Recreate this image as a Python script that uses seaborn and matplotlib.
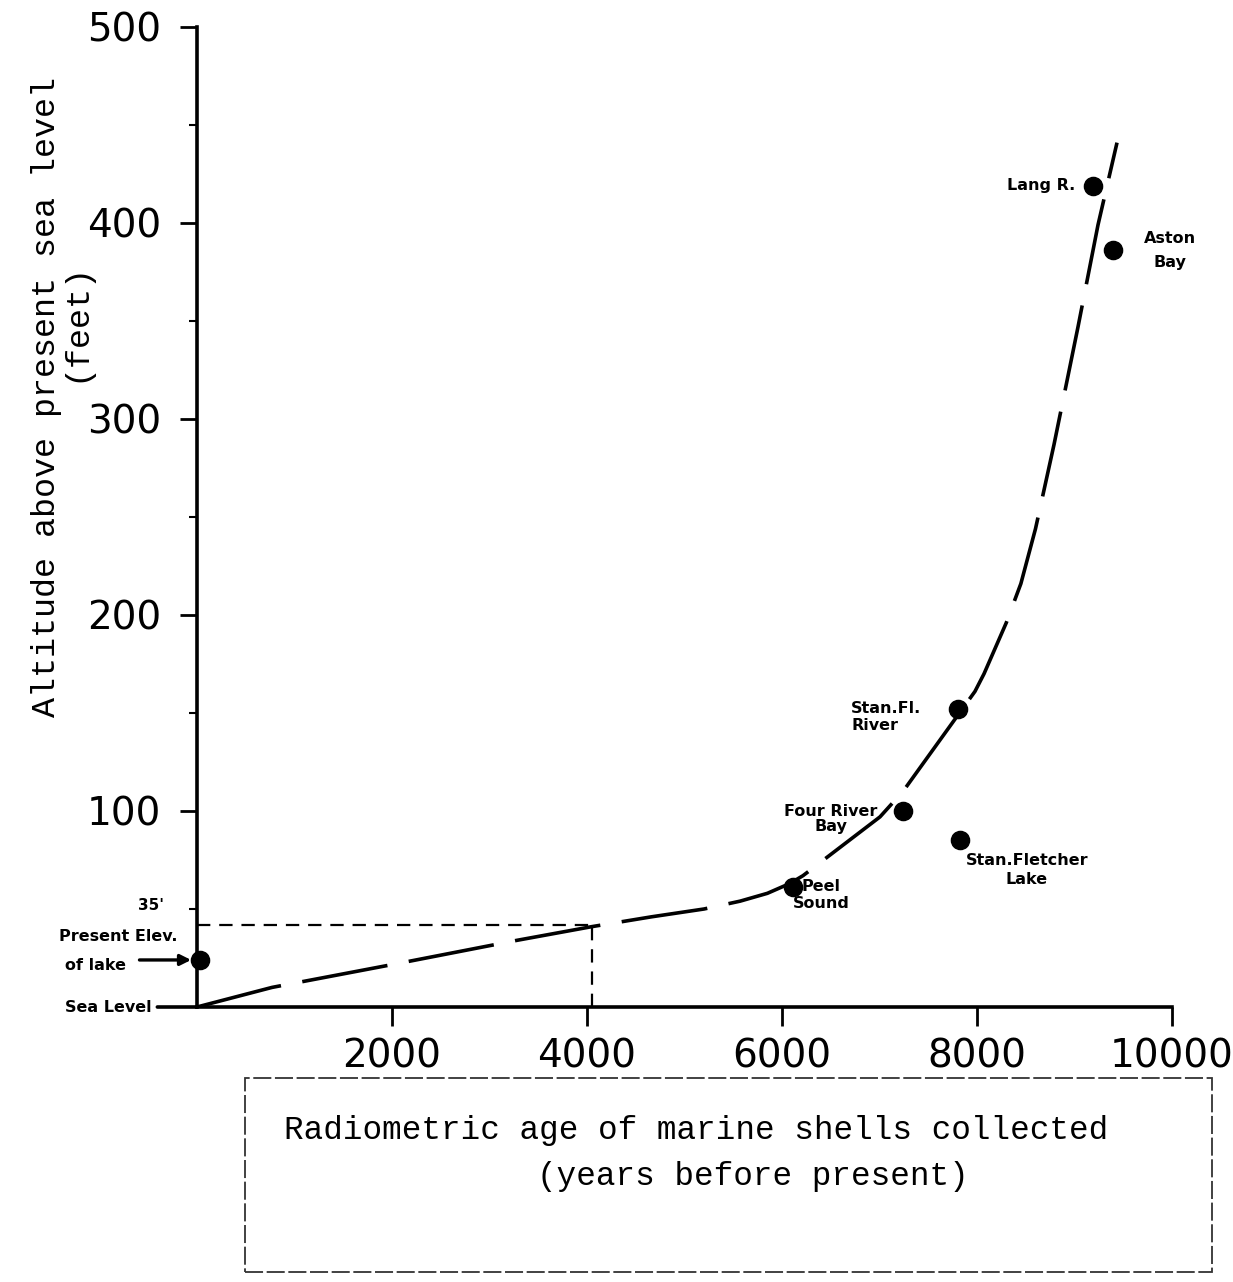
import matplotlib
matplotlib.use("Agg")
import matplotlib.pyplot as plt
import seaborn as sns
import pandas as pd
from matplotlib.patches import Rectangle
from matplotlib.ticker import MultipleLocator

# ---------------- data ----------------
site_names = ["Present Elev. of lake", "Peel Sound", "Four River Bay",
              "Stan.Fl. River", "Stan.Fletcher Lake", "Lang R.", "Aston Bay"]
site_age = [30, 6110, 7240, 7800, 7830, 9190, 9395]
site_alt = [24, 61, 100, 152, 85, 419, 386]

curve_age = [0, 770, 2040, 3280, 4050, 4660, 5200, 5570, 5850, 6080, 6215,
             7005, 7241, 7979, 8072, 8300, 8450, 8600, 8790, 9036, 9241, 9436]
curve_alt = [0, 10, 22, 34, 41, 46, 50, 54, 58, 63, 67,
             97, 110, 161, 170, 196, 216, 244, 287, 347, 399, 441]

ref_age = 4050   # age where the present lake level (35') meets the curve
ref_alt = 42

x_ticks = [2000, 4000, 6000, 8000, 10000]
y_ticks = [100, 200, 300, 400, 500]

sites = pd.DataFrame({"site": site_names, "age": site_age, "alt": site_alt})
curve = pd.DataFrame({"age": curve_age, "alt": curve_alt})

# ---------------- style ----------------
sns.set_style("ticks")
plt.rcParams["font.family"] = ["DejaVu Sans"]
plt.rcParams["text.color"] = "black"

fig = plt.figure(figsize=(12.33, 12.82), dpi=100)
ax = fig.add_axes([197 / 1233, 275 / 1282, 975 / 1233, 980 / 1282])

sns.lineplot(data=curve, x="age", y="alt", sort=False, estimator=None,
             color="black", lw=2.6, ax=ax)
ax.lines[-1].set_linestyle((0, (24, 6)))

sns.scatterplot(data=sites, x="age", y="alt", s=170, color="black",
                edgecolor="black", zorder=5, clip_on=False, ax=ax, legend=False)

ax.hlines(ref_alt, 0, ref_age, colors="black", lw=1.6, linestyles=[(0, (6, 4))])
ax.vlines(ref_age, 0, ref_alt, colors="black", lw=1.6, linestyles=[(0, (6, 4))])

ax.set_xlim(0, 10000)
ax.set_ylim(0, 500)
for s in ["top", "right"]:
    ax.spines[s].set_visible(False)
for s in ["left", "bottom"]:
    ax.spines[s].set_linewidth(2.6)
    ax.spines[s].set_color("black")

ax.set_xticks(x_ticks)
ax.set_xticklabels([str(v) for v in x_ticks], fontsize=28)
ax.set_yticks(y_ticks)
ax.set_yticklabels([str(v) for v in y_ticks], fontsize=28)
ax.yaxis.set_minor_locator(MultipleLocator(50))
ax.tick_params(axis="both", which="both", colors="black", labelcolor="black")
ax.tick_params(axis="y", which="major", length=12, width=2, pad=14, direction="out")
ax.tick_params(axis="y", which="minor", length=6, width=1.5, direction="out")
ax.tick_params(axis="x", which="major", length=14, width=2, pad=8, direction="out")
ax.set_xlabel("")
ax.set_ylabel("")

# ---------------- site labels ----------------
lab = dict(fontsize=11.5, fontweight="bold", color="black")
ax.text(9005, 419, "Lang R.", ha="right", va="center", **lab)
ax.text(9980, 386, "Aston\nBay", ha="center", va="center", linespacing=1.7, **lab)
ax.text(6708, 148, "Stan.Fl.\nRiver", ha="left", va="center", linespacing=1.2, **lab)
ax.text(6500, 96, "Four River\nBay", ha="center", va="center", linespacing=0.95, **lab)
ax.text(6400, 57, "Peel\nSound", ha="center", va="center", linespacing=1.2, **lab)
ax.text(8513, 70, "Stan.Fletcher\nLake", ha="center", va="center", linespacing=1.3, **lab)

ax.text(-810, 36, "Present Elev.", ha="center", va="center", **lab)
ax.text(-1046, 21, "of lake", ha="center", va="center", **lab)
ax.annotate("", xy=(-60, 24), xytext=(-590, 24), annotation_clip=False,
            arrowprops=dict(arrowstyle="-|>", lw=2.4, color="black",
                            mutation_scale=16, shrinkA=0, shrinkB=0))
ax.annotate("Sea Level", xy=(0, 0), xytext=(-913, 0), ha="center", va="center",
            annotation_clip=False,
            arrowprops=dict(arrowstyle="-", lw=2.6, color="black", shrinkA=2, shrinkB=0),
            **lab)
ax.text(-470, 52, "35'", ha="center", va="center", fontsize=11, fontweight="bold",
        color="black")

# ---------------- axis titles ----------------
mono = "Liberation Mono"
fig.text(47 / 1233, 1 - 397 / 1282, "Altitude above present sea level",
         rotation=90, ha="center", va="center", fontsize=24, family=mono, color="black")
fig.text(76 / 1233, 1 - 322 / 1282, "(feet)",
         rotation=90, ha="center", va="center", fontsize=24, family=mono, color="black")

fig.add_artist(Rectangle((245 / 1233, 10 / 1282), 967 / 1233, 194 / 1282,
                         transform=fig.transFigure, fill=False, lw=1.3,
                         ls=(0, (10, 2)), ec="#333333"))
fig.text(696 / 1233, 1 - 1130 / 1282, "Radiometric age of marine shells collected",
         ha="center", va="center", fontsize=23.5, family=mono, color="black")
fig.text(753 / 1233, 1 - 1177 / 1282, "(years before present)",
         ha="center", va="center", fontsize=23.5, family=mono, color="black")

fig.savefig("out.png", dpi=100)
